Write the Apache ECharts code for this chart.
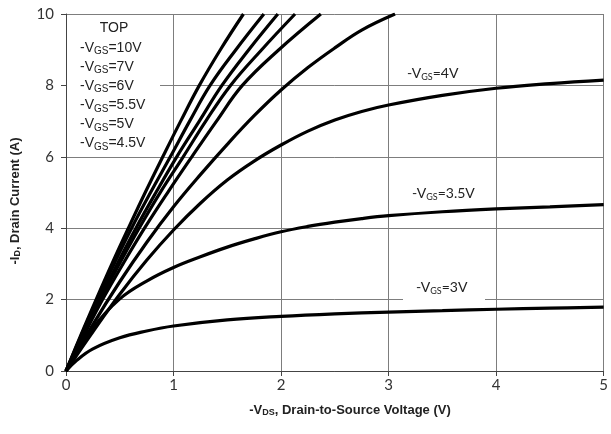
<!DOCTYPE html>
<html>
<head>
<meta charset="utf-8">
<script src="https://cdn.jsdelivr.net/npm/echarts@6/dist/echarts.min.js"></script>
<style>
  html, body { margin: 0; padding: 0; background: #fff; }
  #chart { width: 611px; height: 434px; }
</style>
</head>
<body>
<div id="chart"></div>
<script>
// Axis ranges and ticks
const xTicks = [0, 1, 2, 3, 4, 5];
const yTicks = [0, 2, 4, 6, 8, 10];

// Gate-source voltages, one curve each
const gateLabels = ['10V', '7V', '6V', '5.5V', '5V', '4.5V', '4V', '3.5V', '3V'];

// Output characteristics: [-VDS (V), -ID (A)]
const curve10V  = [[0, 0], [0.14, 1.02], [0.28, 2], [0.43, 3.02], [0.58, 4], [0.74, 5.02], [0.9, 6], [1.07, 7.02], [1.24, 8], [1.44, 9.02], [1.65, 10]];
const curve7V   = [[0, 0], [0.145, 1.02], [0.29, 2], [0.45, 3.02], [0.61, 4], [0.79, 5.02], [0.97, 6], [1.15, 7.0], [1.34, 8], [1.58, 9.0], [1.84, 10]];
const curve6V   = [[0, 0], [0.155, 1.02], [0.31, 2], [0.48, 3.02], [0.65, 4], [0.84, 5.02], [1.03, 6], [1.24, 7.0], [1.45, 8], [1.7, 9.0], [1.97, 10]];
const curve5p5V = [[0, 0], [0.16, 1.02], [0.32, 2], [0.5, 3.02], [0.68, 4], [0.88, 5.02], [1.09, 6], [1.3, 7.0], [1.53, 8], [1.82, 9.0], [2.13, 10]];
const curve5V   = [[0, 0], [0.17, 1.02], [0.34, 2], [0.53, 3.0], [0.73, 4], [0.95, 5.02], [1.17, 6], [1.4, 7.0], [1.64, 8], [1.98, 9.0], [2.37, 10]];
const curve4p5V = [[0, 0], [0.25, 1.3], [0.5, 2.5], [0.75, 3.6], [1.0, 4.6], [1.25, 5.5], [1.5, 6.35], [1.75, 7.15], [2.0, 7.87], [2.25, 8.5], [2.5, 9.05], [2.75, 9.55], [3.06, 10]];
const curve4V   = [[0, 0], [0.25, 1.1], [0.5, 2.15], [0.75, 3.1], [1.0, 3.95], [1.25, 4.7], [1.5, 5.35], [1.75, 5.88], [2.0, 6.33], [2.25, 6.72], [2.5, 7.03], [2.75, 7.27], [3.0, 7.45], [3.5, 7.72], [4.0, 7.92], [4.5, 8.05], [5.0, 8.15]];
const curve3p5V = [[0, 0], [0.25, 1.2], [0.5, 2.02], [0.75, 2.52], [1.0, 2.9], [1.25, 3.2], [1.5, 3.47], [1.75, 3.7], [2.0, 3.9], [2.25, 4.05], [2.5, 4.17], [2.75, 4.27], [3.0, 4.35], [3.5, 4.46], [4.0, 4.54], [4.5, 4.6], [5.0, 4.66]];
const curve3V   = [[0, 0], [0.1, 0.3], [0.25, 0.62], [0.5, 0.93], [0.75, 1.12], [1.0, 1.26], [1.5, 1.43], [2.0, 1.53], [2.5, 1.6], [3.0, 1.65], [3.5, 1.69], [4.0, 1.73], [4.5, 1.76], [5.0, 1.79]];

const curves = [curve10V, curve7V, curve6V, curve5p5V, curve5V, curve4p5V, curve4V, curve3p5V, curve3V];

const chart = echarts.init(document.getElementById('chart'), null, { renderer: 'canvas' });

const gridColor = '#7d7d7d';
const sansFont = '"Liberation Sans", Arial, sans-serif';
const labelFont = 'Lato, "Noto Sans", sans-serif';

// Rich-text styles for "-V" + subscript "GS"/"DS"/"D"
function richStyles(family, size, subSize, subPad) {
  return {
    n: { fontFamily: family, fontSize: size, fill: '#222' },
    s: { fontFamily: family, fontSize: subSize, fill: '#222', padding: [subPad, 0, 0, 0] }
  };
}
function gsText(value) { return '{n|-V}{s|GS}{n|=' + value + '}'; }

const legendX = 80;
const legendRows = gateLabels.slice(0, 6).map((g, i) => ({
  type: 'text', x: legendX, y: 48 + i * 19.1, z: 10,
  style: {
    text: gsText(g), align: 'left', verticalAlign: 'middle',
    rich: richStyles(sansFont, 14, 10, 7)
  }
}));

function curveLabel(g, x, y) {
  return {
    type: 'text', x: x, y: y, z: 10,
    style: {
      text: gsText(g), align: 'left', verticalAlign: 'middle',
      rich: richStyles(labelFont, 14, 9, 8)
    }
  };
}

chart.setOption({
  animation: false,
  backgroundColor: '#fff',
  grid: { left: 66, top: 14, right: 3, bottom: 63, containLabel: false },
  xAxis: {
    type: 'value', min: xTicks[0], max: xTicks[xTicks.length - 1], interval: 1,
    axisLine: { show: true, lineStyle: { color: '#444', width: 1 } },
    axisTick: { show: true, length: 5, lineStyle: { color: '#444' } },
    axisLabel: { margin: 7, fontFamily: labelFont, fontSize: 15, color: '#333' },
    splitLine: { show: true, lineStyle: { color: gridColor, width: 1 } }
  },
  yAxis: {
    type: 'value', min: yTicks[0], max: yTicks[yTicks.length - 1], interval: 2,
    axisLine: { show: true, lineStyle: { color: '#444', width: 1 } },
    axisTick: { show: true, length: 5, lineStyle: { color: '#444' } },
    axisLabel: { margin: 12, fontFamily: labelFont, fontSize: 15, color: '#333' },
    splitLine: { show: true, lineStyle: { color: gridColor, width: 1 } }
  },
  series: curves.map((c, i) => ({
    name: gateLabels[i],
    type: 'line',
    data: c,
    smooth: 0.4,
    showSymbol: false,
    clip: true,
    lineStyle: { color: '#000', width: 3.2 },
    z: 3
  })),
  graphic: [
    // white panel behind the stacked list of top curves
    { type: 'rect', shape: { x: 67, y: 15, width: 93, height: 135 }, style: { fill: '#fff' }, z: 5 },
    { type: 'text', x: 114, y: 28, z: 10,
      style: { text: 'TOP', fontFamily: sansFont, fontSize: 14, fill: '#222', align: 'center', verticalAlign: 'middle' } },
    ...legendRows,
    curveLabel('4V', 407, 73),
    curveLabel('3.5V', 412, 193),
    // white backing that breaks the 2 A grid line under the 3 V label
    { type: 'rect', shape: { x: 403, y: 278, width: 82, height: 25 }, style: { fill: '#fff' }, z: 5 },
    curveLabel('3V', 416, 287),
    // axis titles
    { type: 'text', x: 350, y: 410, z: 10,
      style: {
        text: '{b|-V}{bs|DS}{b|, Drain-to-Source Voltage (V)}', align: 'center', verticalAlign: 'middle',
        rich: {
          b: { fontFamily: sansFont, fontSize: 13, fontWeight: 'bold', fill: '#222' },
          bs: { fontFamily: sansFont, fontSize: 9, fontWeight: 'bold', fill: '#222', padding: [6, 0, 0, 0] }
        }
      } },
    { type: 'text', x: 15, y: 201, rotation: Math.PI / 2, z: 10,
      style: {
        text: '{b|-I}{bs|D}{b|, Drain Current (A)}', align: 'center', verticalAlign: 'middle',
        rich: {
          b: { fontFamily: sansFont, fontSize: 13, fontWeight: 'bold', fill: '#222' },
          bs: { fontFamily: sansFont, fontSize: 9, fontWeight: 'bold', fill: '#222', padding: [6, 0, 0, 0] }
        }
      } }
  ]
});
</script>
</body>
</html>
